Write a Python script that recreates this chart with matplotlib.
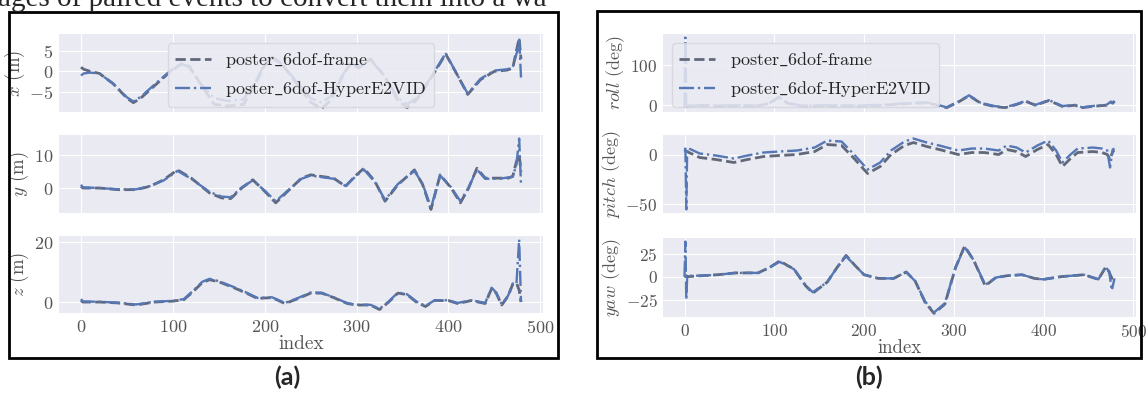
import numpy as np
import matplotlib.pyplot as plt
from matplotlib.patches import Rectangle

# ---- data (index, frame, HyperE2VID) ----
idx_x = [0, 3, 10, 20, 35, 50, 57, 65, 80, 95, 109, 118, 130, 145, 160, 177, 190, 200, 208, 218,
         235, 250, 262, 272, 285, 294, 302, 315, 330, 345, 355, 365, 380, 397, 410, 421, 435, 450,
         464, 470, 475, 477, 479]
x_frame = [1.0, 0.5, 0, -0.5, -3, -6.5, -7.6, -6.5, -3.5, -0.5, 1.8, 1.2, -3, -8, -8.4, -8, -3, 1.5, 3.5, 2,
           -3, -7.5, -9, -7, -1, 2, 0.8, 3, -1, -7, -8.8, -7, -2, 4.2, -1, -5.6, -2, 0,
           0.3, 0.8, 6, 8, 3]
x_hyper = [-1.0, -0.5, -0.3, -0.5, -3, -6.3, -7.3, -6.2, -3.2, -0.3, 1.9, 1.0, -3, -6.5, -7.2, -6.8, -2.5, 1.8, 3.2, 1.8,
           -2.5, -6.5, -7.6, -6, -0.8, 2.2, 1.0, 2.8, -1, -6.5, -8, -6.5, -1.8, 4.4, -1, -5.4, -1.8, 0.2,
           0.5, 1.0, 5, 8.2, -1.5]

idx_y = [0, 2, 20, 40, 60, 75, 90, 105, 120, 140, 153, 163, 175, 187, 200, 212, 225, 240, 250, 262,
         275, 288, 298, 308, 320, 331, 345, 363, 372, 381, 391, 403, 413, 422, 431, 440, 455, 465,
         470, 474, 477, 479]
y_frame = [0.5, 0, 0, -0.5, -0.5, 0.5, 2.5, 5.5, 3, -1.5, -3, -3.2, 0, 2.5, -1, -4.5, -1, 3, 4, 3.5,
           3, 0.5, 3.5, 6, 2, -4, 1, 5.5, 1, -6.5, 4, 0, -4.5, 0, 6, 3, 3, 3,
           3.5, 8, 10, 5]
y_hyper = [1.0, 0.2, 0, -0.4, -0.4, 0.6, 2.3, 5.2, 2.8, -1.2, -2.6, -2.8, 0.2, 2.3, -0.8, -4.0, -0.8, 2.8, 3.8, 3.3,
           2.8, 0.6, 3.3, 5.6, 1.8, -3.6, 1.2, 5.2, 1.2, -6.0, 3.8, 0.2, -4.0, 0.2, 5.6, 2.8, 2.8, 3.2,
           3.5, 7, 15, 1]

idx_z = [0, 2, 20, 40, 60, 80, 100, 112, 122, 132, 140, 150, 165, 180, 192, 208, 222, 235, 250, 262,
         275, 290, 300, 315, 325, 335, 345, 355, 365, 375, 385, 400, 410, 425, 440, 447, 452, 458,
         465, 470, 474, 477, 479]
z_frame = [0.5, 0, 0, -0.3, -1, 0, 0.3, 0.8, 3.5, 6.5, 7.5, 6.8, 5, 3, 1.2, 1.5, -0.5, 1, 3, 3,
           1.5, -0.5, -1, -1, -2.5, 0, 3, 2.5, 0, -1.5, 0.5, 0.5, -0.5, 0.5, -0.5, 4.5, 3, -1,
           2, 6, 6.5, 4, 0]
z_hyper = [1.0, 0.2, 0.1, -0.2, -0.8, 0.1, 0.4, 1.0, 3.8, 6.8, 7.8, 7.0, 5.2, 3.2, 1.4, 1.6, -0.3, 1.2, 3.2, 3.1,
           1.6, -0.4, -0.9, -0.9, -2.3, 0.2, 3.2, 2.6, 0.2, -1.3, 0.6, 0.6, -0.3, 0.6, -0.3, 4.8, 3.2, -0.8,
           2.2, 6.2, 6.0, 21, 0]

idx_r = [0, 1, 2, 3, 5, 20, 40, 60, 80, 95, 105, 115, 130, 160, 190, 220, 240, 255, 270, 282,
         292, 305, 317, 330, 345, 357, 370, 380, 391, 406, 421, 435, 443, 458, 470, 475, 477, 479]
roll_frame = [0, -1, -2, -2, -2, -1, -2, -1, -2, 5, 20, 5, -2, -1, -2, 0, 3, 5, 6, 0,
              -6, 8, 24, 5, -3, -6, 2, 10, 0, 12, -3, 0, -6, -2, 0, 8, 5, 10]
roll_hyper = [-5, 170, -8, -3, -1, 0, -1, 0, -1, 6, 21, 6, -1, 0, -1, 1, 4, 6, 7, 1,
              -5, 9, 25, 6, -2, -5, 3, 11, 1, 13, -2, 1, -5, -1, 1, 9, 6, 11]

idx_p = [0, 1, 2, 3, 5, 17, 35, 55, 70, 88, 105, 125, 145, 159, 175, 190, 204, 218, 230, 245,
         255, 270, 284, 305, 320, 334, 350, 359, 370, 380, 393, 405, 414, 421, 430, 438, 455, 465,
         471, 474, 477, 479]
pitch_frame = [3, 4, 3, 3, 2, -3, -5, -8, -5, -2, -1, 0, 3, 10, 9, -5, -19, -12, 0, 9,
               12, 8, 5, 0, 2, 2, 0, 5, 3, -2, 5, 10, 0, -12, -4, 2, 3, 2,
               0, -5, 3, 4]
pitch_hyper = [5, 6, -55, 6, 6, 1, -1, -4, -1, 2, 3, 4, 7, 14, 13, -1, -15, -8, 4, 13,
               16, 12, 9, 4, 6, 6, 4, 9, 7, 2, 9, 14, 4, -8, 0, 6, 7, 6,
               4, -13, 5, 6]

idx_w = [0, 1, 2, 3, 5, 20, 37, 57, 82, 95, 106, 122, 135, 143, 159, 170, 180, 190, 200, 216,
         233, 247, 257, 268, 278, 290, 302, 312, 322, 335, 347, 360, 376, 390, 400, 420, 445, 461,
         469, 473, 476, 479]
yaw_frame = [0, 0, 1, 0, 0, 1, 2, 4, 4, 10, 17, 8, -10, -18, -6, 10, 23, 12, 2, -2,
             -2, 5, -5, -28, -40, -30, 10, 33, 18, -10, -1, 1, 2, -2, -3, 0, 2, -3,
             10, 5, -2, 0]
yaw_hyper = [0, 38, -25, 0, 1, 1, 2, 4, 4, 10, 16, 8, -10, -17, -6, 10, 22, 12, 2, -2,
             -2, 5, -5, -27, -39, -29, 10, 32, 18, -9, -1, 1, 2, -2, -3, 0, 2, -3,
             10, 6, -15, -2]

labels = [r'poster$\_$6dof-frame', r'poster$\_$6dof-HyperE2VID']
xticks = [0, 100, 200, 300, 400, 500]

panel_a = [(r'$x$ (m)', idx_x, x_frame, x_hyper, [-5, 0, 5]),
           (r'$y$ (m)', idx_y, y_frame, y_hyper, [0, 10]),
           (r'$z$ (m)', idx_z, z_frame, z_hyper, [0, 20])]
panel_b = [(r'$roll$ (deg)', idx_r, roll_frame, roll_hyper, [0, 100]),
           (r'$pitch$ (deg)', idx_p, pitch_frame, pitch_hyper, [-50, 0]),
           (r'$yaw$ (deg)', idx_w, yaw_frame, yaw_hyper, [-25, 0, 25])]

plt.style.use('seaborn-v0_8-darkgrid')
plt.rcParams['font.family'] = ['cmr10', 'DejaVu Serif']
plt.rcParams['mathtext.fontset'] = 'cm'
plt.rcParams['axes.formatter.use_mathtext'] = True
plt.rcParams['axes.unicode_minus'] = True

W, H = 1147, 395
fig = plt.figure(figsize=(W / 100, H / 100), dpi=100)


def box(l, t, r, b):
    return [l / W, 1 - b / H, (r - l) / W, (b - t) / H]


c_frame = '#60687a'
c_hyper = '#5577b5'
tick_c = '#555555'


def draw_panel(rows, left, right, tops, legend_loc, fs):
    axes = []
    for k, (ylab, ix, fr, hy, yt) in enumerate(rows):
        t, b = tops[k]
        ax = fig.add_axes(box(left, t, right, b))
        ax.plot(ix, fr, '--', color=c_frame, lw=2.0, label=labels[0])
        ax.plot(ix, hy, '-.', color=c_hyper, lw=1.7, label=labels[1])
        ax.set_xticks(xticks)
        ax.set_yticks(yt)
        ax.set_ylabel(ylab, fontsize=fs + 0.5, color=tick_c, labelpad=2)
        ax.tick_params(labelsize=fs, colors=tick_c, pad=4)
        if k < 2:
            ax.tick_params(labelbottom=False)
        else:
            ax.set_xlabel('index', fontsize=fs + 1, color=tick_c, labelpad=0)
        axes.append(ax)
    axes[0].legend(loc=legend_loc, fontsize=13, frameon=True, facecolor='#eaeaf2',
                   edgecolor='#d5d5dd', framealpha=0.85, handlelength=2.0)
    return axes


draw_panel(panel_a, 59, 543, [(34, 112), (135, 213), (236, 313)], 'upper center', 13)
draw_panel(panel_b, 663, 1136, [(34, 112), (135, 213), (238, 317)], 'upper left', 12.5)

# panel frames
fig.add_artist(Rectangle((9 / W, 1 - 358 / H), (558 - 9) / W, (358 - 12) / H,
                         transform=fig.transFigure, fill=False, lw=2, ec='black'))
fig.add_artist(Rectangle((597 / W, 1 - 358 / H), (1141 - 597) / W, (358 - 11) / H,
                         transform=fig.transFigure, fill=False, lw=2, ec='black'))

fig.text(287 / W, 1 - 377 / H, '(a)', ha='center', va='center', fontsize=18,
         fontweight='bold', family='Lato')
fig.text(869 / W, 1 - 377 / H, '(b)', ha='center', va='center', fontsize=18,
         fontweight='bold', family='Lato')

# cut-off line of the surrounding page text
fig.text(-2 / W, 1 - 6 / H, 'ages of paired events to convert them into a wa', ha='left',
         va='baseline', fontsize=21, family='Liberation Serif')

fig.savefig('out.png', dpi=100)
